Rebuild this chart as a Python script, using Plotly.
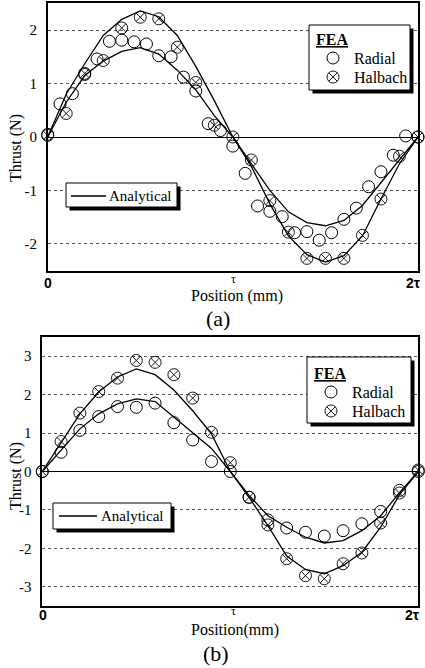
import plotly.graph_objects as go

# ---------------- data (x in units of pole pitch tau) ----------------
# (a)
a_fea_radial_x = [k / 15 for k in range(31)]
a_fea_radial_y = [0.05, 0.62, 0.81, 1.17, 1.46, 1.79, 1.81, 1.78, 1.74, 1.52, 1.50,
                  1.12, 0.86, 0.25, 0.12, -0.17, -0.68, -1.29, -1.39, -1.49, -1.79,
                  -1.77, -1.93, -1.79, -1.54, -1.33, -0.93, -0.65, -0.34, 0.02, 0.0]
a_fea_halbach_x = [k / 10 for k in range(21)]
a_fea_halbach_y = [0.03, 0.44, 1.19, 1.43, 2.04, 2.24, 2.21, 1.68, 1.02, 0.22, 0.0,
                   -0.43, -1.19, -1.78, -2.27, -2.27, -2.27, -1.84, -1.16, -0.36, 0.0]
a_ana_x = [k / 10 for k in range(21)]
a_ana_radial_y = [0.0, 0.65, 1.15, 1.42, 1.60, 1.67, 1.55, 1.25, 0.88, 0.40, 0.0,
                  -0.50, -1.00, -1.40, -1.60, -1.66, -1.56, -1.28, -0.85, -0.42, 0.0]
a_ana_halbach_y = [0.0, 0.80, 1.37, 1.90, 2.20, 2.36, 2.25, 1.90, 1.32, 0.68, 0.0,
                   -0.55, -1.25, -1.85, -2.20, -2.34, -2.22, -1.85, -1.16, -0.50, 0.0]

# (b)
b_fea_x = [k / 10 for k in range(21)]
b_fea_radial_y = [0.0, 0.50, 1.07, 1.43, 1.69, 1.67, 1.78, 1.27, 0.82, 0.26, 0.0,
                  -0.67, -1.26, -1.47, -1.58, -1.68, -1.54, -1.36, -1.04, -0.49, 0.0]
b_fea_halbach_y = [0.0, 0.78, 1.52, 2.08, 2.43, 2.89, 2.84, 2.52, 1.91, 1.02, 0.23,
                   -0.67, -1.39, -2.27, -2.71, -2.79, -2.40, -2.12, -1.34, -0.56, 0.04]
b_ana_x = [k / 10 for k in range(21)]
b_ana_radial_y = [0.0, 0.55, 1.11, 1.50, 1.76, 1.89, 1.82, 1.42, 1.02, 0.60, 0.0,
                  -0.62, -1.15, -1.45, -1.71, -1.86, -1.80, -1.54, -1.15, -0.55, 0.0]
b_ana_halbach_y = [0.0, 0.76, 1.50, 2.07, 2.46, 2.67, 2.52, 2.12, 1.58, 0.98, 0.0,
                   -0.67, -1.41, -2.20, -2.55, -2.66, -2.45, -2.10, -1.45, -0.60, 0.0]

a_yticks = [-2, -1, 0, 1, 2]
b_yticks = [-3, -2, -1, 0, 1, 2, 3]
x_tick_labels = ["0", "τ", "2τ"]
legend_title = "FEA"
legend_names = ["Radial", "Halbach"]
line_name = "Analytical"

SERIF = "Liberation Serif"
W, H = 425, 668

fig = go.Figure()

line_style = dict(color="black", width=1.3)
rad_marker = dict(symbol="circle-open", size=12, color="black", line=dict(width=1, color="black"))
hal_marker = dict(symbol="circle-x-open", size=12, color="black", line=dict(width=0.9, color="black"))

def add_panel(xa, ya, ax, rad_y, hal_y, frx, fry, fhx, fhy):
    fig.add_trace(go.Scatter(x=ax, y=rad_y, mode="lines", line=line_style, xaxis=xa, yaxis=ya, showlegend=False))
    fig.add_trace(go.Scatter(x=ax, y=hal_y, mode="lines", line=line_style, xaxis=xa, yaxis=ya, showlegend=False))
    fig.add_trace(go.Scatter(x=frx, y=fry, mode="markers", marker=rad_marker, xaxis=xa, yaxis=ya, showlegend=False, cliponaxis=False))
    fig.add_trace(go.Scatter(x=fhx, y=fhy, mode="markers", marker=hal_marker, xaxis=xa, yaxis=ya, showlegend=False, cliponaxis=False))

add_panel("x", "y", a_ana_x, a_ana_radial_y, a_ana_halbach_y,
          a_fea_radial_x, a_fea_radial_y, a_fea_halbach_x, a_fea_halbach_y)
add_panel("x2", "y2", b_ana_x, b_ana_radial_y, b_ana_halbach_y,
          b_fea_x, b_fea_radial_y, b_fea_x, b_fea_halbach_y)

# ---------------- overlay (pixel coordinates) for legends ----------------
def box(x0, y0, x1, y1, sh=3.5):
    fig.add_trace(go.Scatter(x=[x0 + sh, x1 + sh, x1 + sh, x0 + sh, x0 + sh],
                             y=[y0 + sh, y0 + sh, y1 + sh, y1 + sh, y0 + sh],
                             fill="toself", fillcolor="black", mode="lines",
                             line=dict(color="black", width=0), xaxis="x3", yaxis="y3", showlegend=False))
    fig.add_trace(go.Scatter(x=[x0, x1, x1, x0, x0], y=[y0, y0, y1, y1, y0],
                             fill="toself", fillcolor="white", mode="lines",
                             line=dict(color="black", width=1), xaxis="x3", yaxis="y3", showlegend=False))

annotations = []
def text(x, y, s, size=16, xanchor="left", family=SERIF, angle=0):
    annotations.append(dict(x=x, y=y, xref="x3", yref="y3", text=s, showarrow=False,
                            xanchor=xanchor, yanchor="middle", textangle=angle,
                            font=dict(family=family, size=size, color="black")))

def fea_legend(x0, y0, x1, y1, ty, r1y, r2y):
    box(x0, y0, x1, y1)
    mx = x0 + 24
    fig.add_trace(go.Scatter(x=[mx], y=[r1y], mode="markers", marker=rad_marker, xaxis="x3", yaxis="y3", showlegend=False))
    fig.add_trace(go.Scatter(x=[mx], y=[r2y], mode="markers", marker=hal_marker, xaxis="x3", yaxis="y3", showlegend=False))
    text(x0 + 5, ty, "<b><u>" + legend_title + "</u></b>", size=16)
    text(x0 + 43, r1y, legend_names[0], size=16)
    text(x0 + 43, r2y, legend_names[1], size=16)

def line_legend(x0, y0, x1, y1, lx0, lx1, ly, tx):
    box(x0, y0, x1, y1)
    fig.add_trace(go.Scatter(x=[lx0, lx1], y=[ly, ly], mode="lines", line=dict(color="black", width=1.3),
                             xaxis="x3", yaxis="y3", showlegend=False))
    text(tx, ly, line_name, size=15)

fea_legend(309, 25, 410, 90, 39, 58, 77)
line_legend(66, 183, 177, 207, 71, 106, 196, 107)
fea_legend(307, 357, 411, 423, 373, 392, 411)
line_legend(53, 503, 171, 529, 59, 97, 516, 99)

# axis titles, tick labels, captions
text(16, 148, "Thrust (N)", size=16, xanchor="center", angle=-90)
text(16, 476, "Thrust (N)", size=16, xanchor="center", angle=-90)
text(237, 296, "Position (mm)", size=16, xanchor="center")
text(235, 630, "Position(mm)", size=16, xanchor="center")
text(218, 318, "(a)", size=22, xanchor="center")
text(216, 653, "(b)", size=22, xanchor="center")
for (x0, y0, xt, xe, ye) in [(47.7, 283, 233.5, 413, 283), (43.3, 615, 233.5, 412, 615)]:
    text(x0, y0, "<b>" + x_tick_labels[0] + "</b>", size=14, xanchor="center", family="Liberation Sans")
    text(xt, y0 - 4, x_tick_labels[1], size=12, xanchor="center")
    text(xe, ye, "<b>" + x_tick_labels[2] + "</b>", size=14, xanchor="center", family="Liberation Sans")

common_x = dict(range=[0, 2], showgrid=False, zeroline=False, showticklabels=False, ticks="",
                showline=True, linecolor="black", linewidth=1.5, mirror=True, fixedrange=True)

def yax(rng, ticks, domain, anchor):
    return dict(range=rng, domain=domain, anchor=anchor, tickvals=ticks,
                ticktext=[str(t) for t in ticks], ticks="", ticklabelstandoff=6,
                tickfont=dict(family=SERIF, size=15, color="black"),
                showgrid=True, gridcolor="#555", griddash="dot", gridwidth=0.8,
                zeroline=True, zerolinecolor="black", zerolinewidth=1.3,
                showline=True, linecolor="black", linewidth=1.5, mirror=True, fixedrange=True)

fig.update_layout(
    width=W, height=H, autosize=False,
    margin=dict(l=0, r=0, t=0, b=0),
    paper_bgcolor="white", plot_bgcolor="rgba(0,0,0,0)",
    showlegend=False,
    xaxis=dict(domain=[0.1122, 0.9835], anchor="y", **common_x),
    yaxis=yax([-2.5, 2.5], a_yticks, [0.5948, 0.995], "x"),
    xaxis2=dict(domain=[0.0995, 0.9842], anchor="y2", **common_x),
    yaxis2=yax([-3.5, 3.5], b_yticks, [0.0928, 0.4955], "x2"),
    xaxis3=dict(domain=[0, 1], range=[0, W], visible=False, fixedrange=True, anchor="y3"),
    yaxis3=dict(domain=[0, 1], range=[H, 0], visible=False, fixedrange=True, anchor="x3"),
    annotations=annotations,
)

fig.write_html("out.html")
